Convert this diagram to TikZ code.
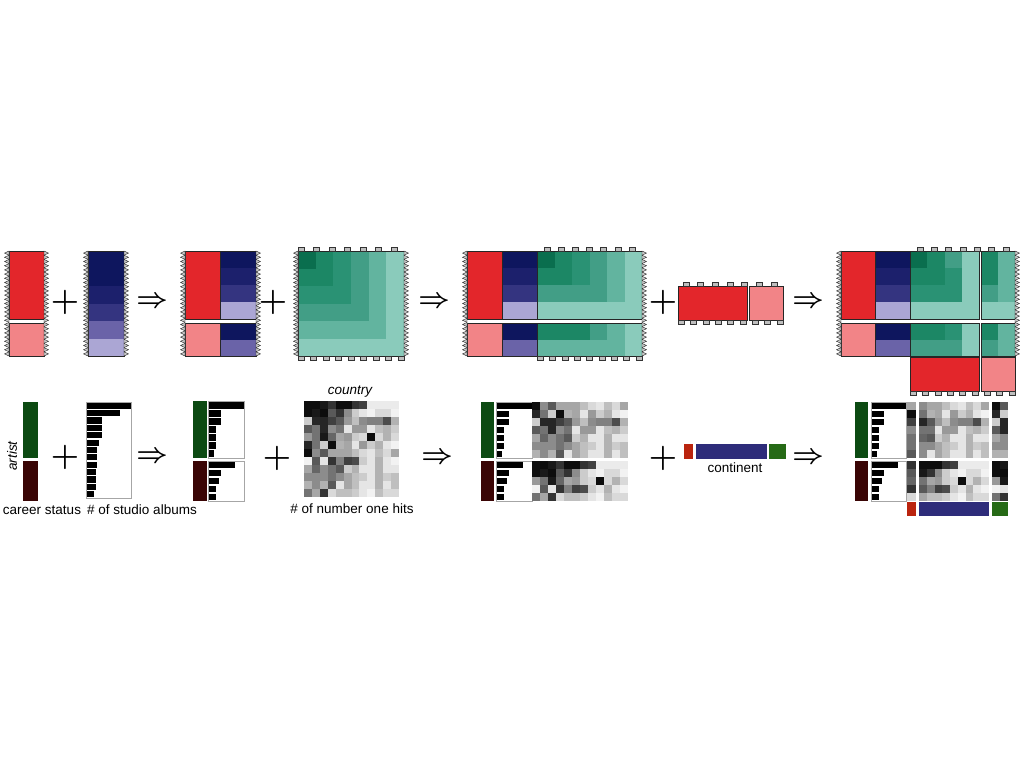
\documentclass[tikz,border=0pt]{standalone}
\usepackage{fontspec}
\setsansfont{Liberation Sans}
\definecolor{redA}{RGB}{227,38,43}
\definecolor{pinkA}{RGB}{242,132,135}
\definecolor{bA}{RGB}{14,22,94}
\definecolor{bB}{RGB}{28,32,108}
\definecolor{bC}{RGB}{52,52,128}
\definecolor{bD}{RGB}{106,99,168}
\definecolor{bE}{RGB}{171,166,212}
\definecolor{gA}{RGB}{10,110,78}
\definecolor{gB}{RGB}{28,135,101}
\definecolor{gC}{RGB}{42,146,116}
\definecolor{gD}{RGB}{66,158,134}
\definecolor{gE}{RGB}{98,180,159}
\definecolor{gF}{RGB}{138,203,187}
\definecolor{activegreen}{RGB}{12,74,18}
\definecolor{retiredred}{RGB}{58,5,5}
\definecolor{contred}{RGB}{186,36,14}
\definecolor{contblue}{RGB}{46,44,122}
\definecolor{contgreen}{RGB}{38,106,22}

\def\hits{{95,95,90,80,95,95,80,75,8,8,8,8,
95,90,95,65,80,45,20,10,5,15,15,5,
20,85,85,75,65,40,25,45,50,50,70,30,
65,55,85,45,55,10,40,40,10,25,30,20,
40,55,90,60,35,40,20,15,95,15,30,15,
85,55,20,95,30,35,10,40,20,30,10,5,
95,45,65,35,35,35,25,15,10,25,15,35,
5,65,10,80,50,75,70,20,10,30,10,5,
35,60,45,55,65,20,30,10,10,30,10,10,
45,45,45,55,45,35,25,20,10,30,20,25,
30,45,30,65,10,35,25,10,10,30,10,25,
55,35,80,15,25,25,20,10,5,25,15,15}}

\newcommand{\teeth}[4]{%
  \pgfmathtruncatemacro{\tcnt}{round((#3-#2)/4.2)}%
  \pgfmathsetmacro{\tht}{(#3-#2)/\tcnt}%
  \foreach \k in {1,...,\tcnt}{%
    \filldraw[tooth] (#1,{#2+(\k-1)*\tht}) -- ({#1+#4*4.5},{#2+(\k-0.5)*\tht}) -- (#1,{#2+\k*\tht}) -- cycle;}}
\newcommand{\tabrow}[5]{%
  \foreach \k in {1,...,#4}{%
    \filldraw[tabbox] ({#1+(\k-1)*(#2-#1-6)/(#4-1)},#3) rectangle ++(6,{#5*4});}}
\newcommand{\bands}[5]{%
  \foreach \cl [count=\i from 0] in {#5}{%
    \fill[\cl] (#1,{#3+\i*#4}) rectangle (#2,{#3+(\i+1)*#4});}}
\newcommand{\gmat}[5]{%
  \foreach \rw [count=\i from 0] in {#5}{%
    \foreach \lv [count=\j from 0] in \rw{%
      \fill[g\lv] ({#1+\j*#3},{#2+\i*#4}) rectangle ++(#3,#4);}}}
\newcommand{\gcells}[6]{%
  \foreach \ri [count=\i from 0] in {#5}{%
    \foreach \ci [count=\j from 0] in {#6}{%
      \pgfmathtruncatemacro{\gv}{\hits[\ri*12+\ci]}%
      \fill[black!\gv] ({#1+\j*#3},{#2+\i*#4}) rectangle ++({#3+0.2},{#4+0.2});}}}
\newcommand{\albumbars}[4]{%
  \foreach \w [count=\i from 0] in {#4}{%
    \fill[black] (#1,{#2+\i*#3+0.6}) rectangle ++(\w,{#3-1.2});}}

\begin{document}
\begin{tikzpicture}[x=1pt, y=-1pt,
  blk/.style={draw=black!85, line width=0.6pt},
  tooth/.style={fill=black!22, draw=black!85, line width=0.4pt},
  tabbox/.style={fill=black!25, draw=black!80, line width=0.5pt},
  frm/.style={draw=black!35, line width=0.6pt},
  op/.style={inner sep=0pt, font=\Huge\boldmath},
  lbl/.style={inner sep=0pt, font=\sffamily\fontsize{13.5}{16}\selectfont}]
  \fill[white] (0,0) rectangle (1024,768);
  \useasboundingbox (0,0) rectangle (1024,768);

  % top row
  \filldraw[blk, fill=redA] (9,251) rectangle (44,319);
  \filldraw[blk, fill=pinkA] (9,323) rectangle (44,356);
  \teeth{9}{251}{356}{-1}
  \teeth{44}{251}{356}{1}
  \node[op, scale=1.3] (plusA) at (65,302) {$+$};
  \bands{88}{124}{251}{17.5}{bA,bA,bB,bC,bD,bE}
  \draw[blk] (88,251) rectangle (124,356);
  \teeth{88}{251}{356}{-1}
  \teeth{124}{251}{356}{1}
  \node[op, scale=1.1] (impA) at (152,302) {$\Rightarrow$};

  \filldraw[blk, fill=redA] (185,251) rectangle (220,319);
  \filldraw[blk, fill=pinkA] (185,323) rectangle (220,356);
  \bands{220}{256}{251}{17}{bA,bB,bC,bE}
  \bands{220}{256}{323}{16.5}{bA,bD}
  \draw[blk] (220,251) rectangle (256,319);
  \draw[blk] (220,323) rectangle (256,356);
  \teeth{185}{251}{356}{-1}
  \teeth{256}{251}{356}{1}
  \node[op, scale=1.3] (plusB) at (273,302) {$+$};

  \gmat{298}{251}{17.67}{17.5}{{A,B,C,D,E,F},{B,B,C,D,E,F},{C,C,C,D,E,F},{D,D,D,D,E,F},{E,E,E,E,E,F},{F,F,F,F,F,F}}
  \draw[blk] (298,251) rectangle (404,356);
  \tabrow{298}{397}{251}{7}{-1}
  \tabrow{298}{404}{356}{9}{1}
  \teeth{298}{251}{356}{-1}
  \teeth{404}{251}{356}{1}
  \node[op, scale=1.1] (impB) at (434,302) {$\Rightarrow$};

  \filldraw[blk, fill=redA] (467,251) rectangle (502,319);
  \filldraw[blk, fill=pinkA] (467,323) rectangle (502,356);
  \bands{502}{537}{251}{17}{bA,bB,bC,bE}
  \bands{502}{537}{323}{16.5}{bA,bD}
  \draw[blk] (502,251) rectangle (537,319);
  \draw[blk] (502,323) rectangle (537,356);
  \gmat{537}{251}{17.5}{17}{{A,B,C,D,E,F},{B,B,C,D,E,F},{D,D,D,D,E,F},{F,F,F,F,F,F}}
  \gmat{537}{323}{17.5}{16.5}{{B,B,B,D,E,F},{E,E,E,E,E,F}}
  \draw[blk] (537,251) rectangle (642,319);
  \draw[blk] (537,323) rectangle (642,356);
  \tabrow{544}{635}{251}{7}{-1}
  \tabrow{537}{642}{356}{9}{1}
  \teeth{467}{251}{356}{-1}
  \teeth{642}{251}{356}{1}
  \node[op, scale=1.3] (plusC) at (663,302) {$+$};

  \filldraw[blk, fill=redA] (678,286) rectangle (747,320);
  \filldraw[blk, fill=pinkA] (749,286) rectangle (783,320);
  \tabrow{683}{777}{286}{7}{-1}
  \tabrow{678}{783}{320}{9}{1}
  \node[op, scale=1.1] (impC) at (808,302) {$\Rightarrow$};

  \filldraw[blk, fill=redA] (841,251) rectangle (875,319);
  \filldraw[blk, fill=pinkA] (841,323) rectangle (875,356);
  \bands{875}{910}{251}{17}{bA,bB,bC,bE}
  \bands{875}{910}{323}{16.5}{bA,bD}
  \draw[blk] (875,251) rectangle (910,319);
  \draw[blk] (875,323) rectangle (910,356);
  \gmat{910}{251}{17.25}{17}{{A,B,D,F},{B,B,C,F},{C,C,C,F},{F,F,F,F}}
  \gmat{910}{323}{17.25}{16.5}{{B,B,C,F},{D,D,D,F}}
  \gmat{981}{251}{17}{17}{{B,E},{B,E},{D,E},{F,F}}
  \gmat{981}{323}{17}{16.5}{{B,E},{D,E}}
  \draw[blk] (910,251) rectangle (979,319);
  \draw[blk] (910,323) rectangle (979,356);
  \draw[blk] (981,251) rectangle (1015,319);
  \draw[blk] (981,323) rectangle (1015,356);
  \filldraw[blk, fill=redA] (910,357) rectangle (979,391);
  \filldraw[blk, fill=pinkA] (981,357) rectangle (1015,391);
  \tabrow{917}{1009}{251}{7}{-1}
  \tabrow{910}{1015}{391}{9}{1}
  \teeth{841}{251}{356}{-1}
  \teeth{1015}{251}{356}{1}

  % bottom row
  \fill[activegreen] (23,402) rectangle (38,458);
  \fill[retiredred] (23,461) rectangle (38,501);
  \node[lbl, rotate=90, font=\sffamily\itshape\fontsize{13.5}{16}\selectfont] (artist) at (12,456) {artist};
  \node[lbl, anchor=base] (status) at (42,514) {career status};
  \node[op, scale=1.3] (plusD) at (65,457) {$+$};
  \albumbars{86}{402}{7.385}{45,34,16,16,16,13,11,11,11,10,10,10,8}
  \draw[frm] (86,402) rectangle (131,498);
  \node[lbl, anchor=base] (albums) at (142,514) {\# of studio albums};
  \node[op, scale=1.1] (impD) at (152,457) {$\Rightarrow$};

  \fill[activegreen] (193,401) rectangle (207,458);
  \fill[retiredred] (193,461) rectangle (207,501);
  \albumbars{208}{401}{8.14}{36,13,13,8,8,8,6}
  \albumbars{208}{461}{8}{27,13,11,8,8}
  \draw[frm] (208,401) rectangle (244,458);
  \draw[frm] (208,461) rectangle (244,501);
  \node[op, scale=1.3] (plusE) at (277,458) {$+$};

  \gcells{304}{401}{7.92}{8}{0,...,11}{0,...,11}
  \node[lbl, font=\sffamily\itshape\fontsize{13.5}{16}\selectfont, anchor=base] (country) at (350,394) {country};
  \node[lbl, anchor=base] (hits) at (352,513) {\# of number one hits};
  \node[op, scale=1.1] (impE) at (437,458) {$\Rightarrow$};

  \fill[activegreen] (481,402) rectangle (494,458);
  \fill[retiredred] (481,461) rectangle (494,501);
  \albumbars{496}{402}{8}{36,13,13,8,8,8,6}
  \albumbars{496}{461}{8}{27,13,11,8,8}
  \draw[frm] (496,402) rectangle (532,458);
  \draw[frm] (496,461) rectangle (532,501);
  \gcells{532}{402}{8}{8}{6,5,2,3,8,9,10}{0,...,11}
  \gcells{532}{461}{8}{8}{0,1,4,7,11}{0,...,11}
  \node[op, scale=1.3] (plusF) at (663,458) {$+$};

  \fill[contred] (684,444) rectangle (693,459);
  \fill[contblue] (696,444) rectangle (767,459);
  \fill[contgreen] (769,444) rectangle (786,459);
  \node[lbl, anchor=base] (continent) at (735,472) {continent};
  \node[op, scale=1.1] (impF) at (808,458) {$\Rightarrow$};

  \fill[activegreen] (855,402) rectangle (868,458);
  \fill[retiredred] (855,461) rectangle (868,501);
  \albumbars{871}{402}{8}{35,13,13,8,8,8,6}
  \albumbars{871}{461}{8}{27,13,11,8,8}
  \draw[frm] (871,402) rectangle (906,458);
  \draw[frm] (871,461) rectangle (906,501);
  \gcells{907}{402}{9}{8}{6,5,2,3,8,9,10}{3}
  \gcells{919}{402}{7.78}{8}{6,5,2,3,8,9,10}{1,4,5,6,7,8,9,10,11}
  \gcells{992}{402}{8}{8}{6,5,2,3,8,9,10}{0,2}
  \gcells{907}{461}{9}{8}{0,1,4,7,11}{3}
  \gcells{919}{461}{7.78}{8}{0,1,4,7,11}{1,4,5,6,7,8,9,10,11}
  \gcells{992}{461}{8}{8}{0,1,4,7,11}{0,2}
  \fill[contred] (907,502) rectangle (916,516);
  \fill[contblue] (919,502) rectangle (989,516);
  \fill[contgreen] (992,502) rectangle (1008,516);
\end{tikzpicture}
\end{document}
